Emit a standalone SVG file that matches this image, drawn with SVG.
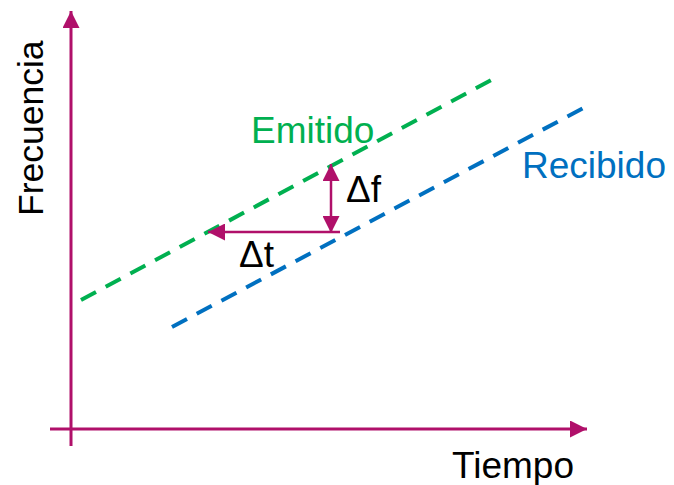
<svg xmlns="http://www.w3.org/2000/svg" width="674" height="485" viewBox="0 0 674 485">
<style>
text { font-family: "Liberation Sans", Arial, sans-serif; font-size: 37px; }
.ax { stroke: #B0106A; stroke-width: 3; fill: none; }
.dl { stroke: #B0106A; stroke-width: 2.5; fill: none; }
.em { stroke: #00B050; stroke-width: 4; stroke-dasharray: 17 11; fill: none; }
.rc { stroke: #0070C0; stroke-width: 4; stroke-dasharray: 17 11; fill: none; }
</style>
<defs>
<marker id="ah" markerUnits="userSpaceOnUse" markerWidth="17" markerHeight="17" refX="17" refY="8.5" orient="auto-start-reverse" viewBox="0 0 17 17">
<path d="M0,0 L17,8.5 L0,17 Z" fill="#B0106A"/>
</marker>
</defs>
<g id="axes">
<line class="ax" x1="71" y1="446" x2="71" y2="11" marker-end="url(#ah)"/>
<line class="ax" x1="50" y1="429" x2="587" y2="429" marker-end="url(#ah)"/>
</g>
<g id="connectors">
<line class="em" x1="81" y1="300" x2="497" y2="77"/>
<line class="rc" x1="172" y1="327" x2="589" y2="105"/>
<line class="dl" x1="340" y1="232" x2="208" y2="232" marker-end="url(#ah)"/>
<line class="dl" x1="331" y1="164" x2="331" y2="233" marker-start="url(#ah)" marker-end="url(#ah)"/>
</g>
<g id="labels">
<text x="251" y="143" fill="#00B050">Emitido</text>
<text x="522" y="178" fill="#0070C0">Recibido</text>
<text x="346" y="202" fill="#000">Δf</text>
<text x="239" y="267" fill="#000">Δt</text>
<text x="452" y="478" fill="#000">Tiempo</text>
<text transform="translate(43,216) rotate(-90)" fill="#000" style="font-size:35.5px">Frecuencia</text>
</g>
</svg>
